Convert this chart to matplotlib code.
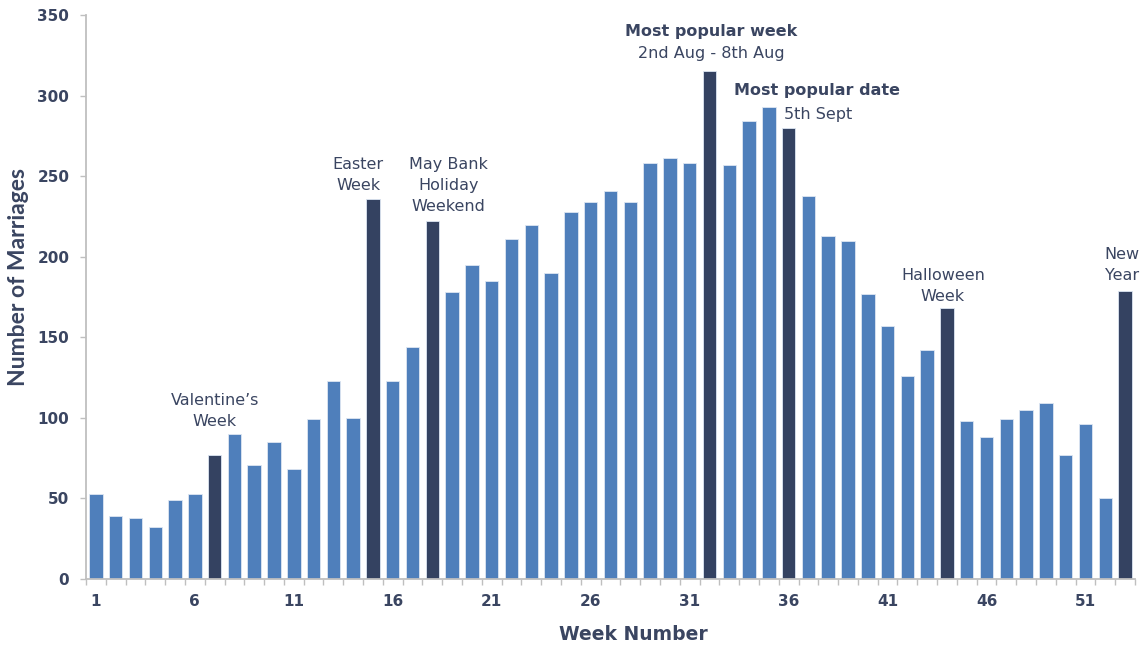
import matplotlib.pyplot as plt
from matplotlib.ticker import FixedLocator, MultipleLocator

# weekly marriage counts, week 1 - 53
weeks = list(range(1, 54))
marriages = [53, 39, 38, 32, 49, 53, 77, 90, 71, 85,
             68, 99, 123, 100, 236, 123, 144, 222, 178, 195,
             185, 211, 220, 190, 228, 234, 241, 234, 258, 261,
             258, 315, 257, 284, 293, 280, 238, 213, 210, 177,
             157, 126, 142, 168, 98, 88, 99, 105, 109, 77,
             96, 50, 179]

# weeks picked out in the darker colour
highlight_weeks = [7, 15, 18, 32, 36, 44, 53]

# (week, text, x offset in weeks, y centre, align, bold)
notes = [
    (7, "Valentine\u2019s\nWeek", 0.0, 104, "center", False),
    (15, "Easter\nWeek", 0.55, 251, "right", False),
    (18, "May Bank\nHoliday\nWeekend", 0.8, 244, "center", False),
    (32, "Most popular week", 0.1, 340, "center", True),
    (32, "2nd Aug - 8th Aug", 0.1, 326, "center", False),
    (36, "Most popular date", 1.45, 303, "center", True),
    (36, "5th Sept", 1.5, 288, "center", False),
    (44, "Halloween\nWeek", -0.2, 182, "center", False),
    (53, "New\nYear", -0.15, 195, "center", False),
]

light = "#4F7FBB"
dark = "#344261"
text_col = "#3A4561"
axis_col = "#BFBFBF"

fig = plt.figure(figsize=(11.43, 6.46), dpi=100)
ax = fig.add_axes([0.0752, 0.1037, 0.9178, 0.873])

colors = [dark if w in highlight_weeks else light for w in weeks]
ax.bar(weeks, marriages, width=0.68, color=colors, edgecolor="#DDE6F2", linewidth=0.6)

ax.set_xlim(0.5, 53.5)
ax.set_ylim(0, 350)

for s in ["top", "right"]:
    ax.spines[s].set_visible(False)
for s in ["left", "bottom"]:
    ax.spines[s].set_color(axis_col)
    ax.spines[s].set_linewidth(1.3)

ax.yaxis.set_major_locator(MultipleLocator(50))
ax.tick_params(axis="y", length=4, width=1, color=axis_col, pad=8,
               labelsize=11, labelcolor=text_col)
ax.xaxis.set_major_locator(FixedLocator([1, 6, 11, 16, 21, 26, 31, 36, 41, 46, 51]))
ax.xaxis.set_minor_locator(FixedLocator([w + 0.5 for w in range(0, 54)]))
ax.tick_params(axis="x", which="major", length=0, pad=11,
               labelsize=11, labelcolor=text_col)
ax.tick_params(axis="x", which="minor", length=4, width=1, color=axis_col)
for lab in ax.get_xticklabels() + ax.get_yticklabels():
    lab.set_fontweight("bold")

ax.set_xlabel("Week Number", fontsize=13.5, fontweight="bold", color=text_col)
ax.xaxis.set_label_coords(0.522, -0.099)
ax.xaxis.label.set_va("center")
ax.set_ylabel("Number of Marriages", fontsize=16.5, fontweight="bold", color=text_col,
              family=["Lato", "DejaVu Sans"])
ax.yaxis.set_label_coords(-0.064, 0.535)
ax.yaxis.label.set_va("center")

for week, txt, dx, y, align, bold in notes:
    xpos = week + dx
    ax.text(xpos, y, txt, ha=align, va="center", fontsize=11.5, color=text_col,
            fontweight="bold" if bold else "normal", linespacing=1.5,
            multialignment="center", clip_on=False)

fig.savefig("out.png", dpi=100)
